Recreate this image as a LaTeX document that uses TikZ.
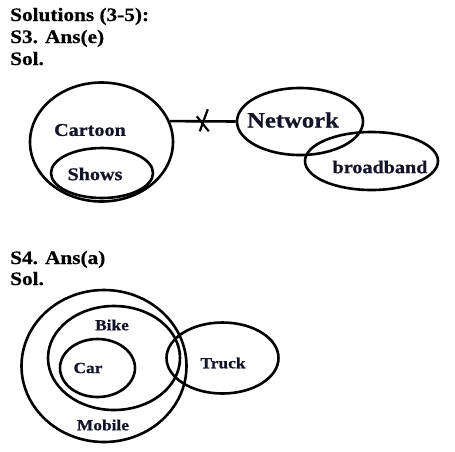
\documentclass[tikz,border=0pt]{standalone}
\usepackage{fontspec}
\setmainfont{Liberation Serif}[BoldFeatures={FakeStretch=1.12, FakeBold=0.6}]
\usetikzlibrary{shapes.geometric}

\definecolor{labelink}{RGB}{20,20,40}

\tikzset{
    set/.style={draw, ellipse, line width=2.6pt, inner sep=0pt},
    heading/.style={anchor=base west, inner sep=0pt, font=\bfseries\fontsize{19}{22}\selectfont},
    setlabel/.style={text=labelink, inner sep=0pt, font=\bfseries\fontsize{18}{20}\selectfont},
    smalllabel/.style={text=labelink, inner sep=0pt, font=\bfseries\fontsize{15.5}{18}\selectfont}
}

\begin{document}
\begin{tikzpicture}[x=1pt, y=-1pt]

    % Fix the page size to the reference picture
    \useasboundingbox (0, 0) rectangle (455, 451);

    % Headings
    \node[heading] (head) at (10, 21) {Solutions (3-5):};
    \node[heading] (ansthree) at (10, 43) {S3. Ans(e)};
    \node[heading] (solthree) at (10, 65) {Sol.};

    % First diagram: the sets
    \node[set, minimum width=143pt, minimum height=119pt] (cartoon) at (101.5, 142) {};
    \node[set, minimum width=102pt, minimum height=50pt] (shows) at (102, 173) {};
    \node[set, minimum width=126pt, minimum height=67pt] (network) at (300, 121.5) {};
    \node[set, minimum width=133pt, minimum height=58pt] (broadband) at (371.5, 161) {};

    % Labels of the first diagram
    \node[setlabel] (cartoontext) at (90, 130) {Cartoon};
    \node[setlabel] (showstext) at (95, 174) {Shows};
    \node[setlabel, font=\bfseries\fontsize{22}{24}\selectfont] (networktext) at (293, 120) {Network};
    \node[setlabel] (broadbandtext) at (380, 167) {broadband};

    % Link between Cartoon and Network, crossed out
    \draw[line width=2.6pt] (cartoon.17) -- (network.west) coordinate[pos=0.5] (cut);
    \draw[line width=2.2pt] ([shift={(5, -12)}]cut) -- ([shift={(-3, 10)}]cut);
    \draw[line width=2.2pt] ([shift={(-6, -5)}]cut) -- ([shift={(6, 10)}]cut);

    % Second answer
    \node[heading] (ansfour) at (10, 264) {S4. Ans(a)};
    \node[heading] (solfour) at (10, 285) {Sol.};

    % Second diagram: the sets
    \node[set, minimum width=165pt, minimum height=152pt] (mobile) at (104, 366) {};
    \node[set, minimum width=132pt, minimum height=104pt] (bike) at (114, 358) {};
    \node[set, minimum width=75pt, minimum height=58pt] (car) at (97.5, 368) {};
    \node[set, minimum width=112pt, minimum height=71pt] (truck) at (222.5, 358) {};

    % Labels of the second diagram
    \node[smalllabel] (biketext) at (112, 325) {Bike};
    \node[smalllabel] (cartext) at (88, 368) {Car};
    \node[smalllabel] (trucktext) at (223, 363) {Truck};
    \node[smalllabel] (mobiletext) at (103, 425) {Mobile};

\end{tikzpicture}
\end{document}
